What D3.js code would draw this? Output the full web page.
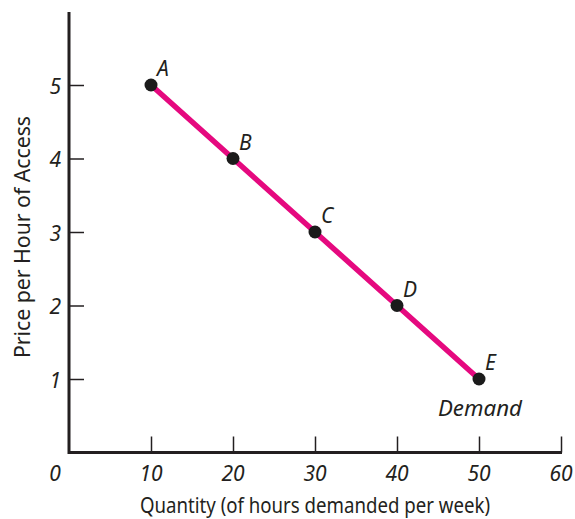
<!DOCTYPE html>
<html><head><meta charset="utf-8">
<script src="https://cdn.jsdelivr.net/npm/d3@7"></script>
<style>body{margin:0;background:#fff}svg{display:block}text{font-family:"Noto Sans","DejaVu Sans",sans-serif;fill:#231f20}</style>
</head><body>
<script>
const pointLabels = ["A","B","C","D","E"];
const quantities = [10,20,30,40,50];
const prices = [5,4,3,2,1];
const xTicks = [10,20,30,40,50,60];
const yTicks = [1,2,3,4,5];
const xTitle = "Quantity (of hours demanded per week)";
const yTitle = "Price per Hour of Access";
const curveLabel = "Demand";

const W=575,H=519;
const svg=d3.select("body").append("svg").attr("width",W).attr("height",H);
const x=d3.scaleLinear().domain([0,60]).range([69,561]);
const y=d3.scaleLinear().domain([0,5]).range([452.5,85]);

// axes
const xAxis=d3.axisTop(x).tickValues(xTicks).tickSize(16).tickFormat("");
const gx=svg.append("g").attr("transform",`translate(0,${y(0)})`).call(xAxis);
gx.select(".domain").remove();
gx.selectAll(".tick line").attr("stroke","#231f20").attr("stroke-width",1.5);
svg.append("line").attr("x1",x(0)-1).attr("x2",x(60)+1).attr("y1",y(0)).attr("y2",y(0)).attr("stroke","#231f20").attr("stroke-width",3);

const yAxis=d3.axisRight(y).tickValues(yTicks).tickSize(15).tickFormat("");
const gy=svg.append("g").attr("transform",`translate(${x(0)},0)`).call(yAxis);
gy.select(".domain").remove();
gy.selectAll(".tick line").attr("stroke","#231f20").attr("stroke-width",1.5);
svg.append("line").attr("x1",x(0)).attr("x2",x(0)).attr("y1",12).attr("y2",y(0)+1.5).attr("stroke","#231f20").attr("stroke-width",3);

// tick labels
svg.selectAll(".xl").data([0].concat(xTicks)).enter().append("text")
  .attr("x",d=>d===0?x(0)-14:x(d)).attr("y",y(0)+28).attr("text-anchor","middle")
  .attr("font-style","italic").attr("font-size",21).text(d=>d);
svg.selectAll(".yl").data(yTicks).enter().append("text")
  .attr("x",x(0)-8).attr("y",d=>y(d)+8.5).attr("text-anchor","end")
  .attr("font-style","italic").attr("font-size",21).text(d=>d);

// titles
svg.append("text").attr("x",315).attr("y",513).attr("text-anchor","middle").attr("font-size",21.5)
  .attr("textLength",350).attr("lengthAdjust","spacingAndGlyphs").text(xTitle);
svg.append("text").attr("transform",`translate(30,237) rotate(-90)`).attr("text-anchor","middle").attr("font-size",22.5)
  .attr("textLength",242).attr("lengthAdjust","spacingAndGlyphs").text(yTitle);

// line
const data=quantities.map((q,i)=>({q,p:prices[i],l:pointLabels[i]}));
svg.append("path").datum(data).attr("d",d3.line().x(d=>x(d.q)).y(d=>y(d.p)))
  .attr("fill","none").attr("stroke","#e5097f").attr("stroke-width",5.5);
svg.selectAll(".pt").data(data).enter().append("circle")
  .attr("cx",d=>x(d.q)).attr("cy",d=>y(d.p)).attr("r",6.5).attr("fill","#1b1b1b");
svg.selectAll(".pl").data(data).enter().append("text")
  .attr("x",d=>x(d.q)+6).attr("y",d=>y(d.p)-9)
  .attr("font-style","italic").attr("font-size",21).text(d=>d.l);
svg.append("text").attr("x",x(50)+1).attr("y",y(1)+37).attr("text-anchor","middle")
  .attr("font-style","italic").attr("font-size",21)
  .attr("textLength",84).attr("lengthAdjust","spacingAndGlyphs").text(curveLabel);
</script>
</body></html>
